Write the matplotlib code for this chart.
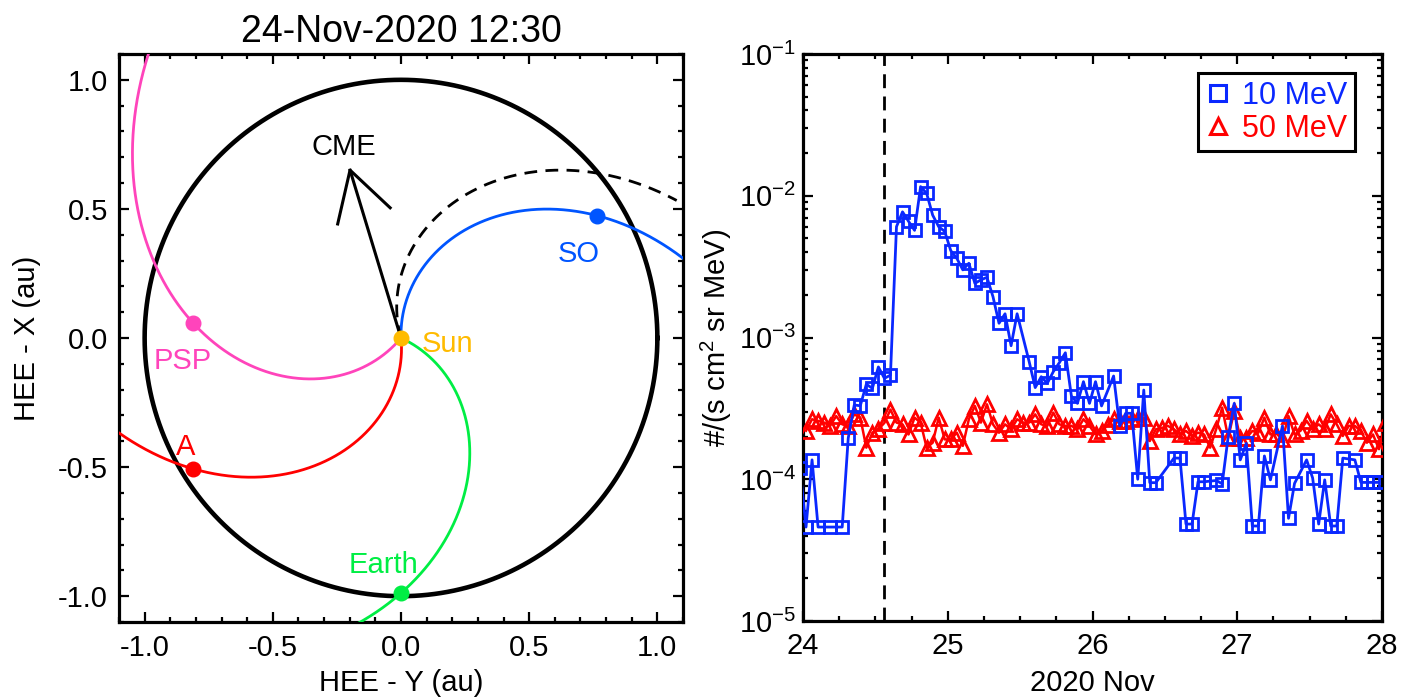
import numpy as np
import matplotlib
matplotlib.use('Agg')
import matplotlib.pyplot as plt
from matplotlib.ticker import MultipleLocator, FixedLocator, FixedFormatter, LogLocator, NullFormatter
from matplotlib.lines import Line2D

plt.rcParams['font.family'] = ['Liberation Sans', 'DejaVu Sans']
plt.rcParams['mathtext.fontset'] = 'custom'
plt.rcParams['mathtext.rm'] = 'Liberation Sans'
plt.rcParams['mathtext.it'] = 'Liberation Sans:italic'
plt.rcParams['mathtext.bf'] = 'Liberation Sans:bold'
plt.rcParams['mathtext.default'] = 'regular'
plt.rcParams['axes.unicode_minus'] = False

# ---------------- left panel data ----------------
title = '24-Nov-2020 12:30'
bodies = ['PSP', 'A', 'Earth', 'SO']
body_x = [-0.81, -0.81, 0.0, 0.765]      # HEE-Y (au), as plotted
body_y = [0.057, -0.507, -0.988, 0.474]  # HEE-X (au), as plotted
body_colors = ['#ff44bb', '#ff0000', '#00ee44', '#0055ff']
body_label_x = [-0.852, -0.84, -0.07, 0.692]
body_label_y = [-0.089, -0.421, -0.88, 0.326]
spiral_rmax = [1.6, 1.6, 1.6, 1.6]
sun_color = '#ffbb00'
sun_label_xy = (0.183, -0.022)
v_sw = 370.0                 # km/s
orbit_radius = 1.0           # au
cme_lon = 107.0              # deg, plot frame
cme_len = 0.68               # au
cme_head_len = 0.22
cme_head_angle = 30.0
cme_label_xy = (-0.223, 0.739)
cme_field_lon = 106.0        # footpoint longitude of dashed field line
cme_field_rmax = 1.2
left_ticks = [-1.0, -0.5, 0.0, 0.5, 1.0]
left_ticklabels = ['-1.0', '-0.5', '0.0', '0.5', '1.0']

# ---------------- right panel data ----------------
blue_hours = [-0.5, 0.5, 1.5, 2.5, 4.5, 6.5, 7.5, 8.5, 9.5, 10.5, 11.5, 12.5, 13.5, 14.5,
              15.5, 16.5, 17.5, 18.5, 19.5, 20.5, 21.5, 22.5, 23.5, 24.5, 25.5, 26.5, 27.5,
              28.5, 29.5, 30.5, 31.5, 32.5, 33.5, 34.5, 35.5, 37.5, 38.5, 39.5, 40.5, 41.5,
              42.5, 43.5, 44.5, 45.5, 46.5, 47.5, 48.5, 49.5, 51.5, 52.5, 53.5, 54.5, 55.5,
              56.5, 57.5, 58.5, 61.5, 62.5, 63.5, 64.5, 65.5, 66.5, 68.5, 69.5, 70.5, 71.5,
              72.5, 73.5, 74.5, 75.5, 76.5, 77.5, 79.5, 80.5, 81.5, 83.5, 84.5, 85.5, 86.5,
              87.5, 88.5, 89.5, 91.5, 92.5, 93.5, 94.5, 95.5]
blue_vals = [1.2e-4, 4.6e-5, 1.37e-4, 4.6e-5, 4.6e-5, 4.6e-5, 1.95e-4, 3.34e-4, 3.3e-4, 4.68e-4,
             4.38e-4, 6.2e-4, 5.15e-4, 5.43e-4, 6.05e-3, 7.7e-3, 6.6e-3, 5.7e-3, 1.16e-2, 1.04e-2,
             7.3e-3, 6.05e-3, 5.6e-3, 4.1e-3, 3.62e-3, 3.0e-3, 3.34e-3, 2.41e-3, 2.55e-3, 2.66e-3,
             1.94e-3, 1.26e-3, 1.47e-3, 8.75e-4, 1.47e-3, 6.75e-4, 4.43e-4, 5.29e-4, 4.75e-4,
             5.74e-4, 6.64e-4, 7.8e-4, 3.87e-4, 3.43e-4, 4.88e-4, 3.43e-4, 4.88e-4, 3.29e-4,
             5.35e-4, 2.38e-4, 2.92e-4, 2.92e-4, 1.0e-4, 4.26e-4, 9.46e-5, 9.46e-5, 1.41e-4,
             1.41e-4, 4.83e-5, 4.83e-5, 9.6e-5, 9.6e-5, 9.8e-5, 9.3e-5, 2.0e-4, 3.43e-4, 1.37e-4,
             1.79e-4, 4.68e-5, 4.68e-5, 1.46e-4, 9.9e-5, 2.38e-4, 5.3e-5, 9.35e-5, 1.37e-4,
             1.02e-4, 4.83e-5, 9.9e-5, 4.68e-5, 4.68e-5, 1.41e-4, 1.37e-4, 9.5e-5, 9.5e-5,
             9.5e-5, 9.5e-5]
red_hours = list(np.arange(0.5, 97.0, 1.0))
red_vals = [2.2e-4, 2.65e-4, 2.58e-4, 2.51e-4, 2.38e-4, 2.79e-4, 2.44e-4, 2.38e-4, 2.87e-4, 2.72e-4,
            1.67e-4, 2.13e-4, 2.25e-4, 2.5e-4, 3.1e-4, 2.51e-4, 2.44e-4, 2.07e-4, 2.72e-4, 2.51e-4,
            1.67e-4, 1.81e-4, 2.72e-4, 1.91e-4, 1.91e-4, 2.13e-4, 1.72e-4, 2.65e-4, 3.29e-4, 2.51e-4,
            3.38e-4, 2.44e-4, 2.13e-4, 2.44e-4, 2.25e-4, 2.65e-4, 2.5e-4, 2.51e-4, 2.87e-4, 2.44e-4,
            2.38e-4, 2.95e-4, 2.44e-4, 2.38e-4, 2.38e-4, 2.25e-4, 2.65e-4, 2.38e-4, 2.07e-4, 2.19e-4,
            2.4e-4, 2.65e-4, 2.58e-4, 2.58e-4, 2.65e-4, 2.72e-4, 2.72e-4, 1.86e-4, 2.25e-4, 2.3e-4,
            2.38e-4, 2.25e-4, 2.07e-4, 2.19e-4, 2.02e-4, 2.13e-4, 2.07e-4, 1.67e-4, 2.25e-4, 3.2e-4,
            1.96e-4, 3.03e-4, 1.96e-4, 1.96e-4, 2.19e-4, 2.13e-4, 2.72e-4, 2.07e-4, 2.1e-4, 1.91e-4,
            2.79e-4, 2.07e-4, 2.2e-4, 2.58e-4, 2.25e-4, 2.44e-4, 2.25e-4, 2.87e-4, 2.44e-4, 2.02e-4,
            2.38e-4, 2.38e-4, 2.19e-4, 1.81e-4, 2.07e-4, 1.63e-4, 2.5e-4]
start_day = 24.0
event_day = 24.56
series_labels = ['10 MeV', '50 MeV']
series_colors = ['#0a28ff', '#ff0000']
right_xticks = [24, 25, 26, 27, 28]
right_xticklabels = ['24', '25', '26', '27', '28']
right_yticks = [1e-5, 1e-4, 1e-3, 1e-2, 1e-1]
right_yticklabels = [r'$10^{-5}$', r'$10^{-4}$', r'$10^{-3}$', r'$10^{-2}$', r'$10^{-1}$']

FS = 21
W, H = 1403, 697
fig = plt.figure(figsize=(W / 100, H / 100), dpi=100)
ax1 = fig.add_axes([119 / W, (H - 622) / H, (683 - 119) / W, (622 - 54) / H])
ax2 = fig.add_axes([803 / W, (H - 621) / H, (1382 - 803) / W, (621 - 54) / H])

for ax in (ax1, ax2):
    for s in ax.spines.values():
        s.set_linewidth(2.3)
    ax.tick_params(which='both', direction='in', top=True, right=True, width=1.6, labelsize=FS)
    ax.tick_params(which='major', length=7.5)
    ax.tick_params(which='minor', length=3.8)

# ---------------- left panel ----------------
OMEGA = 2 * np.pi / (25.38 * 86400.0)
AU_KM = 1.496e8
k = OMEGA * AU_KM / v_sw  # rad per au

phi = np.linspace(0, 2 * np.pi, 721)
ax1.plot(orbit_radius * np.cos(phi), orbit_radius * np.sin(phi), color='black', lw=3.3, zorder=2)

for name, bx, by, col, rmax in zip(bodies, body_x, body_y, body_colors, spiral_rmax):
    r0 = np.hypot(bx, by)
    th0 = np.arctan2(by, bx)
    r = np.linspace(0, rmax, 600)
    th = th0 + k * (r0 - r)
    ax1.plot(r * np.cos(th), r * np.sin(th), color=col, lw=2.0, zorder=3)

# dashed field line from the CME source
r = np.linspace(0, cme_field_rmax, 400)
th = np.radians(cme_field_lon) - k * r
ax1.plot(r * np.cos(th), r * np.sin(th), color='black', lw=2.0, dashes=(4.6, 3.0), zorder=3)

for name, bx, by, col, lx, ly in zip(bodies, body_x, body_y, body_colors, body_label_x, body_label_y):
    ax1.plot([bx], [by], 'o', color=col, ms=10.5, zorder=5)
    ax1.text(lx, ly, name, color=col, fontsize=FS, ha='center', va='center', zorder=6)

ax1.plot([0], [0], 'o', color=sun_color, ms=10.5, zorder=6)
ax1.text(sun_label_xy[0], sun_label_xy[1], 'Sun', color=sun_color, fontsize=FS, ha='center', va='center')

# CME arrow
a = np.radians(cme_lon)
tipx, tipy = cme_len * np.cos(a), cme_len * np.sin(a)
ax1.plot([0, tipx], [0, tipy], color='black', lw=2.2, zorder=4)
for sgn in (-1, 1):
    b = a + np.pi + sgn * np.radians(cme_head_angle)
    ax1.plot([tipx, tipx + cme_head_len * np.cos(b)], [tipy, tipy + cme_head_len * np.sin(b)],
             color='black', lw=2.2, zorder=4, solid_capstyle='butt')
ax1.text(cme_label_xy[0], cme_label_xy[1], 'CME', color='black', fontsize=FS, ha='center', va='center')

ax1.set_xlim(-1.1, 1.1)
ax1.set_ylim(-1.1, 1.1)
for axis in (ax1.xaxis, ax1.yaxis):
    axis.set_major_locator(FixedLocator(left_ticks))
    axis.set_major_formatter(FixedFormatter(left_ticklabels))
    axis.set_minor_locator(MultipleLocator(0.1))
ax1.tick_params(axis='x', pad=9)
ax1.tick_params(axis='y', pad=8)
ax1.set_xlabel('HEE - Y (au)', fontsize=FS)
ax1.set_ylabel('HEE - X (au)', fontsize=FS)
ax1.xaxis.label.set_va('center')
ax1.yaxis.label.set_va('center')
ax1.xaxis.set_label_coords(0.5, (622 - 683) / 568)
ax1.yaxis.set_label_coords((27 - 119) / 564, 0.5)
ax1.set_title(title, fontsize=27, pad=9)

# ---------------- right panel ----------------
bt = start_day + np.array(blue_hours) / 24.0
rt = start_day + np.array(red_hours) / 24.0
ax2.plot(rt, red_vals, color=series_colors[1], lw=1.8, marker='^', ms=10, mfc='none',
         mec=series_colors[1], mew=2.0, zorder=3)
ax2.plot(bt, blue_vals, color=series_colors[0], lw=2.0, marker='s', ms=9, mfc='none',
         mec=series_colors[0], mew=2.0, zorder=4)
ax2.axvline(event_day, color='black', lw=2.0, dashes=(5.0, 3.0), zorder=2)

ax2.set_yscale('log')
ax2.set_xlim(24, 28)
ax2.set_ylim(1e-5, 1e-1)
ax2.xaxis.set_major_locator(FixedLocator(right_xticks))
ax2.xaxis.set_major_formatter(FixedFormatter(right_xticklabels))
ax2.xaxis.set_minor_locator(MultipleLocator(0.25))
ax2.yaxis.set_major_locator(FixedLocator(right_yticks))
ax2.yaxis.set_major_formatter(FixedFormatter(right_yticklabels))
ax2.yaxis.set_minor_locator(LogLocator(base=10, subs=np.arange(2, 10)))
ax2.yaxis.set_minor_formatter(NullFormatter())
ax2.tick_params(axis='x', pad=8)
ax2.tick_params(axis='y', pad=5)
ax2.set_xlabel('2020 Nov', fontsize=FS)
ax2.set_ylabel(r'#/(s cm$^2$ sr MeV)', fontsize=FS)
ax2.xaxis.label.set_va('center')
ax2.yaxis.label.set_va('center')
ax2.xaxis.set_label_coords(0.5, (621 - 683) / 567)
ax2.yaxis.set_label_coords((716 - 803) / 579, 0.5)

handles = [Line2D([], [], ls='none', marker='s', ms=11, mfc='none', mec=series_colors[0], mew=2.2),
           Line2D([], [], ls='none', marker='^', ms=12, mfc='none', mec=series_colors[1], mew=2.2)]
leg = ax2.legend(handles, series_labels, loc='upper right', bbox_to_anchor=((1355 - 803) / 579, (621 - 73) / 567),
                 borderaxespad=0, fontsize=22, fancybox=False, framealpha=1, edgecolor='black',
                 handlelength=0.8, handletextpad=0.4, borderpad=0.25, labelspacing=0.1)
leg.get_frame().set_linewidth(2.2)
for txt, col in zip(leg.get_texts(), series_colors):
    txt.set_color(col)

fig.savefig('out.png', dpi=100)
